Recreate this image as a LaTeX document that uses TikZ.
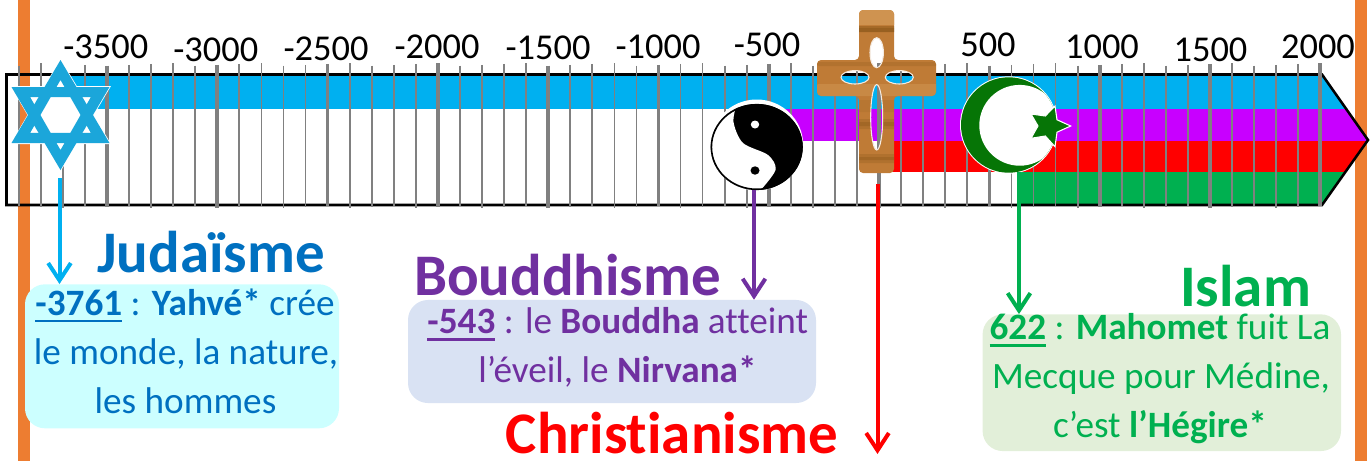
\documentclass[tikz,border=0pt]{standalone}
\usepackage{fontspec}
\setmainfont{Carlito}[RawFeature=-liga]
\usetikzlibrary{arrows.meta}
\definecolor{orangebar}{HTML}{ED7D31}
\definecolor{cblue}{HTML}{00B0F0}
\definecolor{cpurple}{HTML}{C800FF}
\definecolor{cred}{HTML}{FF0000}
\definecolor{cgreen}{HTML}{00B050}
\definecolor{tjud}{HTML}{0070C0}
\definecolor{tbud}{HTML}{7030A0}
\definecolor{starblue}{HTML}{1BA6DA}
\definecolor{moon}{HTML}{067506}
\definecolor{wood}{HTML}{BF7B36}
\definecolor{woodd}{HTML}{8F5A1C}
\definecolor{woodl}{HTML}{CF9350}
\definecolor{boxjud}{HTML}{CCFFFF}
\definecolor{boxbud}{HTML}{D9E2F3}
\definecolor{boxisl}{HTML}{E2EFD9}
\newcommand{\ul}[1]{\setbox0\hbox{#1}\rlap{\rule[-5.4pt]{\wd0}{1.9pt}}\box0\relax}
\tikzset{
  ticklab/.style={font=\fontsize{27.3pt}{30pt}\selectfont,text=black,anchor=base,inner sep=0pt},
  title/.style={font=\bfseries\fontsize{44.2pt}{46pt}\selectfont,anchor=base,inner sep=0pt},
  boxline/.style={font=\fontsize{27.9pt}{30pt}\selectfont,anchor=base,inner sep=0pt},
  infobox/.style={rounded corners=15pt,inner sep=0pt,draw=none},
  link/.style={line width=3pt,-{Straight Barb[length=13pt,width=17pt,line width=3pt]}},
  minor/.style={draw=gray,line width=1.3pt},
  major/.style={draw=gray,line width=2.8pt},
}
\begin{document}
\begin{tikzpicture}[x=0.75pt,y=-0.75pt]
\useasboundingbox (0,0) rectangle (1371,461);
% side bars
\fill[orangebar] (18,0) rectangle (30,461);
\fill[orangebar] (1355,0) rectangle (1367,461);
% bands, clipped to the arrow shape
\begin{scope}
\clip (6.5,74.5) -- (1322,74.5) -- (1368,140) -- (1322,205) -- (6.5,205) -- cycle;
\fill[cblue] (70,75) rectangle (1370,108.7);
\fill[cpurple] (775,108.7) rectangle (1370,141);
\fill[cred] (888,141) rectangle (1370,171.7);
\fill[cgreen] (1017,171.7) rectangle (1370,204);
\end{scope}
\draw[line width=1.9pt,black,line join=miter] (6.5,74.5) -- (1322,74.5) -- (1368,140) -- (1322,205) -- (6.5,205) -- cycle;
% ticks
\foreach \k in {-4,...,55}{
  \pgfmathsetmacro{\xx}{107+22.06*\k}
  \pgfmathtruncatemacro{\mm}{mod(\k+20,5)}
  \pgfmathsetmacro{\tp}{63+mod(abs(\k*7)+3,4)*0.9}
  \pgfmathsetmacro{\bt}{205.5+mod(abs(\k*5)+1,3)}
  \ifnum\mm=0
    \draw[major] (\xx,\tp) -- (\xx,\bt);
  \else
    \draw[minor] (\xx,\tp) -- (\xx,\bt);
  \fi
}
% tick labels
\node[ticklab] (l1) at (105.8,58) {-3500};
\node[ticklab] (l2) at (215.8,61) {-3000};
\node[ticklab] (l3) at (326,60) {-2500};
\node[ticklab] (l4) at (437,58) {-2000};
\node[ticklab] (l5) at (548,59) {-1500};
\node[ticklab] (l6) at (658,58) {-1000};
\node[ticklab] (l7) at (767,56) {-500};
\node[ticklab] (l8) at (988,56) {500};
\node[ticklab] (l9) at (1102,58) {1000};
\node[ticklab] (l10) at (1210.5,61) {1500};
\node[ticklab] (l11) at (1318,58) {2000};
% Star of David
\fill[white] (60.5,58.5) -- (111,144) -- (10.5,144) -- cycle;
\fill[white] (60.5,171.5) -- (111,86) -- (10.5,86) -- cycle;
\fill[starblue,even odd rule] (60.5,60) -- (109.5,143) -- (11.5,143) -- cycle
   (60.5,80) -- (90.8,132.8) -- (30.2,132.8) -- cycle;
\fill[starblue,even odd rule] (60.5,170) -- (109.5,87) -- (11.5,87) -- cycle
   (60.5,150) -- (90.8,97.2) -- (30.2,97.2) -- cycle;
% Yin-yang
\fill[white] (756.7,145) ellipse [x radius=46.5,y radius=45.5];
\begin{scope}
\clip (756.7,147) ellipse [x radius=46,y radius=43];
\fill[black] (700,95) rectangle (810,195);
\fill[white] plot[smooth] coordinates {(737,103) (733.5,122) (743,143) (768,155) (775.5,170) (759,192)} -- (700,192) -- (700,103) -- cycle;
\end{scope}
\draw[black,line width=1.2pt] (756.7,147) ellipse [x radius=45.3,y radius=42.3];
\fill[white] (755,124.5) ellipse [x radius=4.2,y radius=4];
\fill[black] (755,170.5) ellipse [x radius=4.5,y radius=4.2];
% Cross
\def\crossshape{(859,10) -- (894,10) -- (894,60) -- (936,60) -- (936,96) -- (894,96) -- (894,173) -- (859,173) -- (859,96) -- (817,96) -- (817,60) -- (859,60) -- cycle}
\def\crossholes{(876.7,52.7) ellipse [x radius=6.7,y radius=15]
  (855,77.3) ellipse [x radius=14,y radius=6.7]
  (899.3,77.3) ellipse [x radius=14,y radius=6.7]
  (876.7,117.3) ellipse [x radius=6,y radius=32.7]}
\fill[wood,even odd rule,rounded corners=3pt] \crossshape \crossholes;
\begin{scope}[even odd rule,rounded corners=3pt]
\clip \crossshape \crossholes;
\fill[woodl] (855,10) rectangle (898,25);
\fill[woodd,opacity=.5] (855,26) rectangle (898,28);
\fill[woodd,opacity=.8] (855,28) rectangle (898,32);
\fill[woodd,opacity=.25] (815,62) rectangle (940,66);
\fill[woodl,opacity=.6] (815,84) rectangle (940,96);
\fill[woodd,opacity=.3] (855,119) rectangle (898,129);
\fill[woodd,opacity=.4] (855,122) rectangle (898,126);
\fill[woodd,opacity=.3] (855,154) rectangle (898,163);
\fill[woodd,opacity=.4] (855,157) rectangle (898,160);
\fill[woodd,opacity=.15] (855,100) rectangle (898,112);
\end{scope}
\draw[draw=white!85!wood,line width=.8pt] \crossholes;
% Crescent and star
\fill[white] (1008.7,125) circle [radius=48.7];
\begin{scope}
\clip (1008.7,125) circle [radius=47.7];
\fill[moon] (955,70) rectangle (1065,180);
\fill[white] (1019.7,125.3) circle [radius=40.4];
\end{scope}
\draw[white,line width=.8pt,fill=moon,line join=miter]
  (1070.7,126) -- (1057,119.8) -- (1055,106) -- (1045.3,116) -- (1031,114) -- (1038,126)
  -- (1031,138.3) -- (1045.3,136) -- (1055,146.7) -- (1057,132.2) -- cycle;
% info boxes
\node[infobox,fill=boxjud,minimum width=235.5pt,minimum height=108pt] (judbox) at (182,356.3) {};
\node[infobox,fill=boxbud,minimum width=306pt,minimum height=77.3pt] (budbox) at (612,351.5) {};
\node[infobox,fill=boxisl,minimum width=268.8pt,minimum height=102.5pt] (islbox) at (1161.8,382.7) {};
% titles
\node[title,text=tjud] (tjud) at (211,272.3) {Judaïsme};
\node[title,text=tbud] (tbud) at (567.5,295) {Bouddhisme};
\node[title,text=cred] (tchr) at (672,453.3) {Christianisme};
\node[title,text=cgreen] (tisl) at (1245.5,306) {Islam};
% box text
\node[boxline,text=tjud] (j1) at (185,315) {\ul{\textbf{-3761}} : \textbf{Yahvé*} crée};
\node[boxline,text=tjud] (j2) at (186,364) {le monde, la nature,};
\node[boxline,text=tjud] (j3) at (185.5,413) {les hommes};
\node[boxline,text=tbud] (b1) at (617.8,333.3) {\ul{\textbf{-543}} : le \textbf{Bouddha} atteint};
\node[boxline,text=tbud] (b2) at (617.5,382.7) {l’éveil, le \textbf{Nirvana*}};
\node[boxline,text=cgreen] (i1) at (1160,339.3) {\ul{\textbf{622}} : \textbf{Mahomet} fuit La};
\node[boxline,text=cgreen] (i2) at (1161,388.3) {Mecque pour Médine,};
\node[boxline,text=cgreen] (i3) at (1160,437.3) {c’est \textbf{l’Hégire*}};
% connectors
\coordinate (sj) at (59.5,178);
\coordinate (sb) at (754,190);
\coordinate (sc) at (877.5,184);
\coordinate (ec) at (877.5,454);
\coordinate (si) at (1019,172);
\draw[link,draw=cblue] (sj) -- (sj |- judbox.north);
\draw[link,draw=tbud] (sb) -- (sb |- budbox.north);
\draw[link,draw=cred] (sc) -- (ec);
\draw[link,draw=cgreen] (si) -- (si |- islbox.north);
\end{tikzpicture}
\end{document}
